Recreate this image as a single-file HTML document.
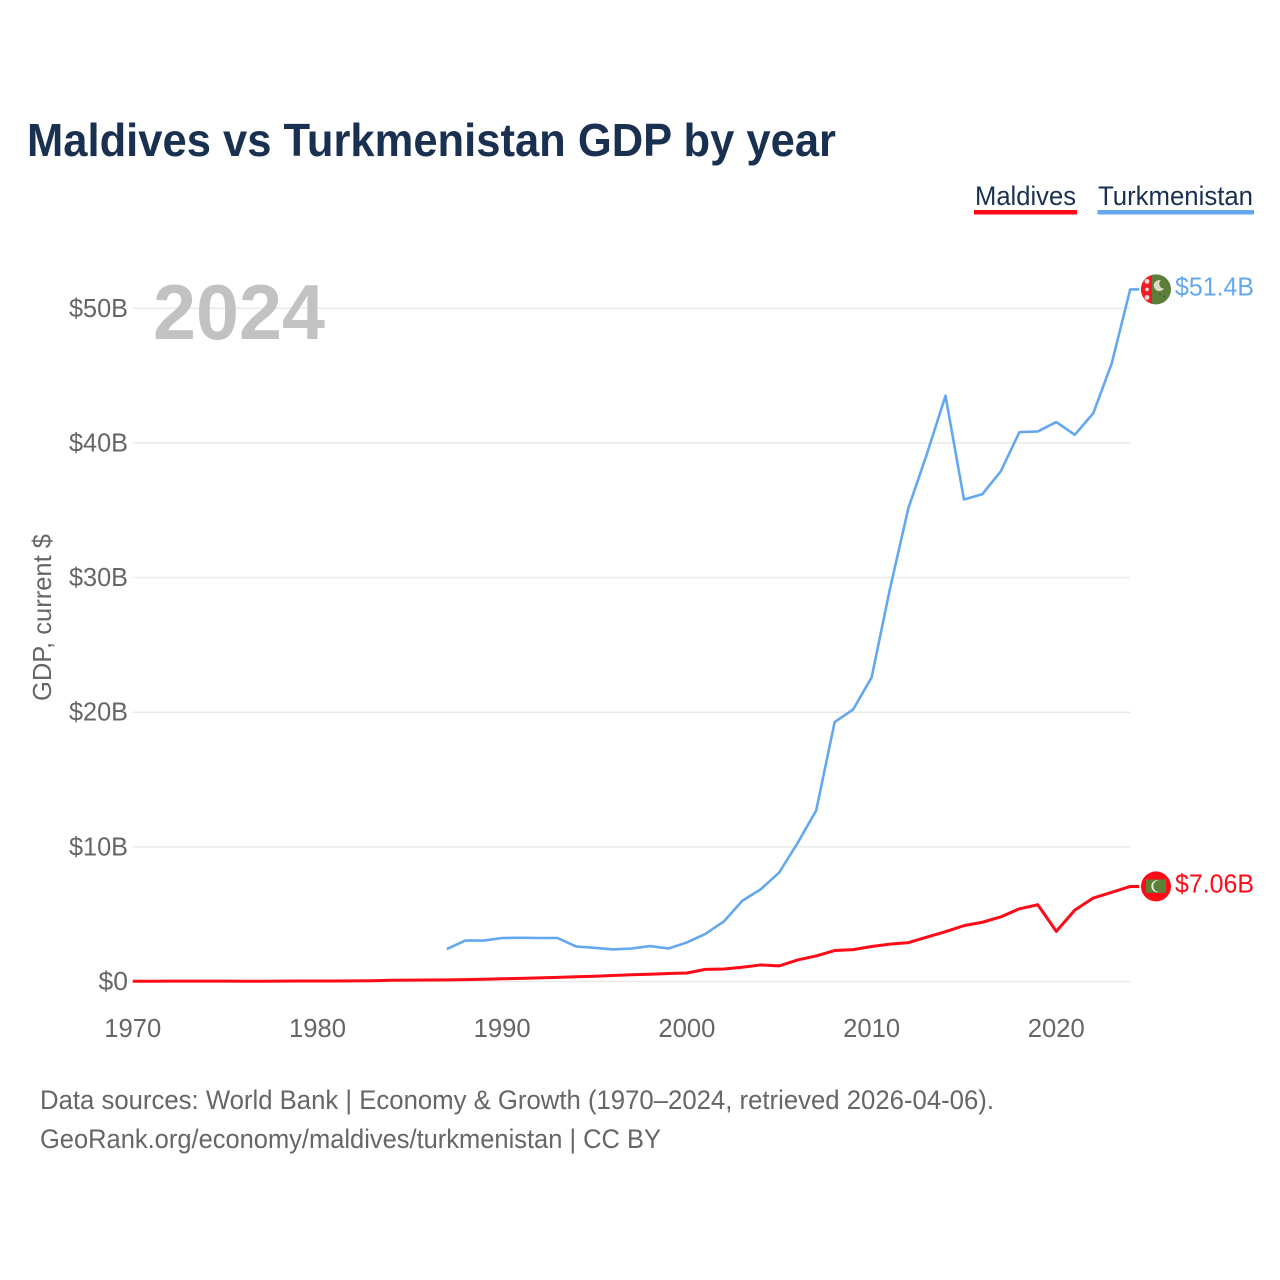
<!DOCTYPE html>
<html lang="en">
<head>
<meta charset="utf-8">
<title>Maldives vs Turkmenistan GDP by year</title>
<style>
html,body{margin:0;padding:0;background:#fff;}
svg{display:block;font-family:"Liberation Sans",sans-serif;}
</style>
</head>
<body>
<svg id="chart" width="1280" height="1280" viewBox="0 0 1280 1280" xmlns="http://www.w3.org/2000/svg">
  <rect width="1280" height="1280" fill="#fff"/>
  <text x="27" y="156" font-size="46" font-weight="700" fill="#1a3050" textLength="809" lengthAdjust="spacingAndGlyphs">Maldives vs Turkmenistan GDP by year</text>

  <g>
    <g>
      <text x="975" y="205" font-size="27" fill="#1a3050" textLength="101" lengthAdjust="spacingAndGlyphs">Maldives</text>
      <rect x="974" y="210" width="103" height="4.5" fill="#ff0a16"/>
    </g>
    <g>
      <text x="1098" y="205" font-size="27" fill="#1a3050" textLength="155" lengthAdjust="spacingAndGlyphs">Turkmenistan</text>
      <rect x="1097.5" y="210" width="156.5" height="4.5" fill="#63a8ee"/>
    </g>
  </g>

  <g id="grid"></g>
  <g id="yticks"></g>
  <g id="xticks"></g>

  <text transform="translate(51,701) rotate(-90)" font-size="26" fill="#666" textLength="167" lengthAdjust="spacingAndGlyphs">GDP, current $</text>
  <text x="153" y="339" font-size="78" font-weight="700" fill="#c2c2c2" textLength="172" lengthAdjust="spacingAndGlyphs">2024</text>

  <g id="series"></g>

  <g id="flag-turkmenistan">
    <circle cx="0" cy="0" r="15" fill="#5b7f3a"/>
    <path d="M-4,-14.46 A15,15 0 0 0 -4,14.46 Z" fill="#f01c25"/>
    <circle cx="-9" cy="-8" r="2.4" fill="#f3d9d9"/>
    <circle cx="-9" cy="0" r="1.8" fill="#f3d9d9"/>
    <circle cx="-9" cy="8" r="2.4" fill="#f3d9d9"/>
    <path d="M5,-9 A5.5,5.5 0 1 0 8,-1 A4.5,4.5 0 0 1 5,-9 Z" fill="#d8dcc8"/>
    <circle cx="4" cy="5" r="0.8" fill="#24404a"/>
    <circle cx="8" cy="7" r="0.8" fill="#24404a"/>
  </g>
  <g id="flag-maldives">
    <circle cx="0" cy="0" r="15" fill="#ff0a16"/>
    <rect x="-10" y="-7" width="20" height="13.5" fill="#5b8136"/>
    <path d="M3,-6 A6,6 0 1 0 3,5.5 A4.6,4.6 0 0 1 3,-6 Z" fill="#e8ece2"/>
  </g>

  <text id="label-turkmenistan" x="1175" y="296" font-size="26" fill="#63a8ee" textLength="79" lengthAdjust="spacingAndGlyphs">$51.4B</text>
  <text id="label-maldives" x="1175" y="893" font-size="26" fill="#ff0a16" textLength="79" lengthAdjust="spacingAndGlyphs">$7.06B</text>

  <g>
    <text x="40" y="1109" font-size="27" fill="#666" textLength="954" lengthAdjust="spacingAndGlyphs">Data sources: World Bank | Economy &amp; Growth (1970–2024, retrieved 2026-04-06).</text>
    <text x="40" y="1148" font-size="27" fill="#666" textLength="621" lengthAdjust="spacingAndGlyphs">GeoRank.org/economy/maldives/turkmenistan | CC BY</text>
  </g>
</svg>

<script>
const years = [1970,1971,1972,1973,1974,1975,1976,1977,1978,1979,1980,1981,1982,1983,1984,1985,1986,1987,1988,1989,1990,1991,1992,1993,1994,1995,1996,1997,1998,1999,2000,2001,2002,2003,2004,2005,2006,2007,2008,2009,2010,2011,2012,2013,2014,2015,2016,2017,2018,2019,2020,2021,2022,2023,2024];
const maldivesGdp = [0.02,0.02,0.03,0.03,0.03,0.03,0.02,0.02,0.03,0.04,0.04,0.04,0.05,0.06,0.09,0.1,0.11,0.12,0.14,0.17,0.2,0.23,0.27,0.31,0.35,0.39,0.45,0.5,0.54,0.59,0.63,0.9,0.93,1.06,1.23,1.16,1.6,1.9,2.3,2.37,2.6,2.78,2.89,3.3,3.7,4.15,4.4,4.8,5.4,5.7,3.72,5.3,6.2,6.62,7.06];
const turkmenistanGdp = [null,null,null,null,null,null,null,null,null,null,null,null,null,null,null,null,null,2.41,3.04,3.04,3.23,3.25,3.23,3.23,2.6,2.5,2.38,2.45,2.63,2.45,2.9,3.53,4.46,6.0,6.85,8.1,10.3,12.7,19.27,20.2,22.58,29.2,35.2,39.2,43.5,35.8,36.2,37.9,40.8,40.85,41.55,40.6,42.2,45.9,51.4];
const xTickYears = [1970,1980,1990,2000,2010,2020];
const yTickValues = [0,10,20,30,40,50];
const yTickLabels = ["$0","$10B","$20B","$30B","$40B","$50B"];

const NS = "http://www.w3.org/2000/svg";
const xScale = function (year) { return 132.8 + (year - 1970) * 18.47; };
const yScale = function (value) { return 981.5 - value * 13.465; };

const grid = document.getElementById("grid");
const yticks = document.getElementById("yticks");
const xticks = document.getElementById("xticks");
const seriesGroup = document.getElementById("series");

yTickValues.forEach(function (v, i) {
  const line = document.createElementNS(NS, "line");
  
  
  line.setAttribute("x1", xScale(1970));
  line.setAttribute("x2", xScale(2024));
  line.setAttribute("y1", yScale(v));
  line.setAttribute("y2", yScale(v));
  line.setAttribute("stroke", "#e9e9e9");
  line.setAttribute("stroke-width", "1.5");
  grid.appendChild(line);

  const t = document.createElementNS(NS, "text");
  
  
  t.setAttribute("x", 128);
  t.setAttribute("y", yScale(v) + 8.5);
  t.setAttribute("text-anchor", "end");
  t.setAttribute("font-size", "25.5");
  t.setAttribute("fill", "#666");
  t.setAttribute("textLength", yTickLabels[i].length * 14.75);
  t.setAttribute("lengthAdjust", "spacingAndGlyphs");
  t.textContent = yTickLabels[i];
  yticks.appendChild(t);
});

xTickYears.forEach(function (y) {
  const t = document.createElementNS(NS, "text");
  
  
  t.setAttribute("x", xScale(y));
  t.setAttribute("y", 1037);
  t.setAttribute("text-anchor", "middle");
  t.setAttribute("font-size", "25.5");
  t.setAttribute("fill", "#666");
  t.setAttribute("textLength", 57);
  t.setAttribute("lengthAdjust", "spacingAndGlyphs");
  t.textContent = y;
  xticks.appendChild(t);
});

function seriesPath(values) {
  let d = "";
  values.forEach(function (v, i) {
    if (v === null) return;
    d += (d ? "L" : "M") + xScale(years[i]).toFixed(2) + "," + yScale(v).toFixed(2);
  });
  d += "H" + (xScale(years[years.length - 1]) + 9).toFixed(2);
  return d;
}

function drawSeries(values, color, width, name) {
  const p = document.createElementNS(NS, "path");
  
  
  p.setAttribute("d", seriesPath(values));
  p.setAttribute("fill", "none");
  p.setAttribute("stroke", color);
  p.setAttribute("stroke-width", width);
  p.setAttribute("stroke-linejoin", "round");
  seriesGroup.appendChild(p);
}
drawSeries(turkmenistanGdp, "#63a8ee", "2.6", "line-turkmenistan");
drawSeries(maldivesGdp, "#ff0a16", "3", "line-maldives");

function placeEnd(flagId, labelId, values) {
  const last = values[values.length - 1];
  const cy = yScale(last);
  document.getElementById(flagId).setAttribute("transform", "translate(1156," + cy + ")");
  document.getElementById(labelId).setAttribute("y", cy + 6);
}
placeEnd("flag-turkmenistan", "label-turkmenistan", turkmenistanGdp);
placeEnd("flag-maldives", "label-maldives", maldivesGdp);
</script>
</body>
</html>
